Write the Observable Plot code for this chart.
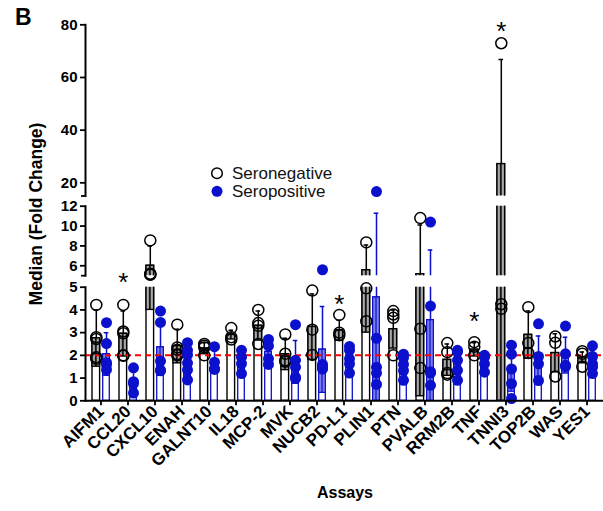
<!DOCTYPE html>
<html><head><meta charset="utf-8">
<script src="https://cdn.jsdelivr.net/npm/d3@7"></script>
<script src="https://cdn.jsdelivr.net/npm/@observablehq/plot@0.6"></script>
<style>
html,body{margin:0;padding:0;background:#fff;}
#chart{position:relative;width:603px;height:511px;overflow:hidden;font-family:Arial,"Liberation Sans",sans-serif;}
#chart svg.panel{position:absolute;left:0;overflow:visible;}
#overlay{position:absolute;left:0;top:0;pointer-events:none;}
</style>
</head><body>
<svg width="0" height="0" style="position:absolute">
<defs>
<pattern id="stripeK" patternUnits="objectBoundingBox" patternContentUnits="objectBoundingBox" width="1" height="1">
<rect x="0" y="0" width="1" height="1" fill="#a8a8a8"/>
<rect x="0.38" y="0" width="0.24" height="1" fill="#111"/>
</pattern>
<pattern id="stripeB" patternUnits="objectBoundingBox" patternContentUnits="objectBoundingBox" width="1" height="1">
<rect x="0" y="0" width="1" height="1" fill="#8f8ff0"/>
<rect x="0.38" y="0" width="0.24" height="1" fill="#0a10cc"/>
</pattern>
</defs>
</svg>
<div id="chart"></div>
<script>
const assays = ["AIFM1","CCL20","CXCL10","ENAH","GALNT10","IL18","MCP-2","MVK","NUCB2","PD-L1","PLIN1","PTN","PVALB","RRM2B","TNF","TNNI3","TOP2B","WAS","YES1"];
const negMean   = [2.75,2.95,6.0,2.4,2.3,2.9,3.3,2.05,3.25,3.1,5.55,3.15,5.15,1.8,2.25,27.1,2.9,2.1,1.9];
const negErrTop = [4.0,3.95,8.0,3.15,2.55,3.1,3.95,2.75,4.7,3.55,8.1,4.0,10.1,2.5,2.55,66.8,3.95,2.95,2.15];
const posMean   = [2.05,0.85,2.35,1.75,1.75,1.7,2.15,1.7,2.25,1.9,4.55,1.6,3.55,1.7,1.7,1.35,1.95,2.0,1.75];
const posErrTop = [3.0,1.3,3.6,2.4,2.2,2.15,2.65,2.65,4.15,2.3,11.3,2.0,7.6,2.2,2.0,2.3,2.85,2.8,2.2];
const negPoints = [
  [4.22,2.8,2.72,1.92,1.85],[4.22,3.05,2.97,2.0,1.98],[8.55,5.2,5.15,5.1],[3.35,2.35,2.25,2.05,2.0],
  [2.5,2.42,2.35,2.0],[3.2,2.8,2.7],[4.0,3.42,3.3,2.5],[2.92,2.07,1.78,1.72],[4.85,3.13,2.02],
  [3.78,3.0,2.88],[8.35,4.95,3.5],[3.95,3.8,3.65,2.0],[10.8,3.17,1.44],[2.54,2.14,1.22,1.15],
  [2.58,2.38,2.0],[73,4.25,4.05],[4.12,2.54,2.1],[2.83,2.55,1.07],[2.18,2.07,1.5]
];
const posPoints = [
  [3.44,2.52,1.68,1.6,1.37],[1.45,0.84,0.76,0.34],[3.95,3.45,1.75,1.35,1.32],[2.56,2.22,2.02,1.66,1.36,0.92],
  [2.38,1.7,1.42,1.38],[2.22,1.92,1.64,1.2],[2.7,2.42,1.85,1.6],[3.35,1.78,1.48,1.04,0.98],[5.6,1.6,1.5,1.45,1.4],
  [2.39,2.22,1.85,1.63,1.22],[16.7,2.75,1.48,1.22,0.72],[2.05,1.9,1.6,1.33,0.9],[10.4,4.17,1.28,1.22,0.68],
  [2.22,2.15,1.78,1.34,0.9],[2.0,1.92,1.63,1.26],[2.45,2.05,1.4,0.75,0.1],[3.39,1.95,1.63,0.89],
  [3.29,2.07,1.56,1.51],[2.42,1.95,1.62,1.48,1.2]
];
const starAssays = ["CCL20","PD-L1","TNF","TNNI3"];
const starValues = [5.45,4.5,3.75,79.7];
const starPanel  = ["bottom","bottom","bottom","top"];
const refLine = 2;
const topTicks = [20,40,60,80], midTicks = [6,8,10,12], botTicks = [0,1,2,3,4,5];

const BLUE = "#0a10cc";
const negRows = assays.map((a,i)=>({assay:a, mean:negMean[i], err:negErrTop[i], low:Math.max(0, 2*negMean[i]-negErrTop[i])}));
const posRows = assays.map((a,i)=>({assay:a, mean:posMean[i], err:posErrTop[i], low:Math.max(0, 2*posMean[i]-posErrTop[i])}));
const negPts = assays.flatMap((a,i)=>negPoints[i].map(v=>({assay:a, v})));
const posPts = assays.flatMap((a,i)=>posPoints[i].map(v=>({assay:a, v})));
const stars = starAssays.map((a,i)=>({assay:a, v:starValues[i], panel:starPanel[i]}));

const NDX = -4.7, PDX = 5.5;
const chart = document.getElementById("chart");

function panel({name, domain, ticks, ends, top, height, mt, mb, inPanel, bottom}) {
  const marks = [
    Plot.barY(negRows, {x:"assay", y1:0, y2:"mean", fill:"white", stroke:"black", strokeWidth:1.4, insetLeft:5, insetRight:14.4, clip:true}),
    Plot.barY(negRows, {x:"assay", y1:"low", y2:"mean", fill:"url(#stripeK)", stroke:"black", strokeWidth:1.4, insetLeft:5, insetRight:14.4, clip:true}),
    Plot.barY(posRows, {x:"assay", y1:0, y2:"mean", fill:"white", stroke:BLUE, strokeWidth:1.3, insetLeft:15.7, insetRight:4.7, clip:true}),
    Plot.barY(posRows, {x:"assay", y1:"low", y2:"mean", fill:"url(#stripeB)", stroke:BLUE, strokeWidth:1.3, insetLeft:15.7, insetRight:4.7, clip:true}),
    Plot.ruleX(negRows, {x:"assay", y1:"mean", y2:"err", stroke:"black", strokeWidth:1.5, dx:NDX, clip:true}),
    Plot.tickY(negRows, {x:"assay", y:"err", stroke:"black", strokeWidth:1.5, insetLeft:6.5, insetRight:15.9, clip:true}),
    Plot.ruleX(posRows, {x:"assay", y1:"mean", y2:"err", stroke:BLUE, strokeWidth:1.5, dx:PDX, clip:true}),
    Plot.tickY(posRows, {x:"assay", y:"err", stroke:BLUE, strokeWidth:1.5, insetLeft:16.7, insetRight:5.7, clip:true}),
  ];
  if (bottom) marks.push(Plot.ruleY([refLine], {stroke:"#ff0000", strokeWidth:2, strokeDasharray:"6,4"}));
  marks.push(
    Plot.dot(negPts.filter(d=>inPanel(d.v)), {x:"assay", y:"v", r:5.5, fill:"none", stroke:"black", strokeWidth:1.5, dx:NDX}),
    Plot.dot(posPts.filter(d=>inPanel(d.v)), {x:"assay", y:"v", r:5.5, fill:BLUE, stroke:"none", dx:PDX}),
    Plot.text(stars.filter(d=>d.panel===name), {x:"assay", y:"v", text:()=>"*", fontSize:26, fontWeight:"normal", dx:NDX, dy:6}),
    Plot.frame({anchor:"left", strokeWidth:2}),
    Plot.axisY(ticks, {tickSize:5, tickPadding:3, strokeWidth:1.8, fontSize:15, fontWeight:"bold", label:null}),
  );
  if (ends.length) marks.push(Plot.axisY(ends, {tickSize:4, strokeWidth:1.8, tickFormat:()=>"", label:null}));
  if (bottom) {
    marks.push(
      Plot.frame({anchor:"bottom", strokeWidth:2}),
      Plot.axisX({tickSize:5, tickPadding:3, strokeWidth:1.8, tickRotate:-45, fontSize:17, fontWeight:"bold", label:null})
    );
  }
  const p = Plot.plot({
    width:603, height, marginTop:mt, marginBottom:mb, marginLeft:85, marginRight:0,
    x:{type:"band", domain:assays, range:[83,603], padding:0, ...(bottom ? {} : {axis:null})},
    y:{domain, axis:null},
    style:{background:"transparent", overflow:"visible", fontFamily:'Arial,"Liberation Sans",sans-serif', color:"#000"},
    marks
  });
  p.classList.add("panel");
  p.style.top = top + "px";
  p.style.position = "absolute";
  p.style.left = "0px";
  p.style.overflow = "visible";
  chart.appendChild(p);
}

panel({name:"top", domain:[15,80], ticks:topTicks, ends:[15], top:0, height:200, mt:24.3, mb:4.5, inPanel:v=>v>12});
panel({name:"mid", domain:[5,12], ticks:midTicks, ends:[5], top:200, height:81, mt:5.7, mb:5.8, inPanel:v=>v>5 && v<=12});
panel({name:"bottom", domain:[0,5], ticks:botTicks, ends:[], top:281, height:230, mt:5.7, mb:110.7, inPanel:v=>v<=5, bottom:true});

// titles and legend
const ov = d3.select(chart).append("svg").attr("id","overlay").attr("width",603).attr("height",511)
  .style("font-family",'Arial,"Liberation Sans",sans-serif');
ov.append("text").attr("x",15).attr("y",25).attr("font-size",23).attr("font-weight","bold").text("B");
ov.append("text").attr("transform","translate(41.5,214) rotate(-90)").attr("text-anchor","middle")
  .attr("font-size",17.5).attr("font-weight","bold").text("Median (Fold Change)");
ov.append("text").attr("x",345).attr("y",498).attr("text-anchor","middle")
  .attr("font-size",16).attr("font-weight","bold").text("Assays");
const lg = ov.append("g");
lg.append("circle").attr("cx",217).attr("cy",173.3).attr("r",5.3).attr("fill","none").attr("stroke","#000").attr("stroke-width",1.5);
lg.append("text").attr("x",232).attr("y",179.3).attr("font-size",17).attr("fill","#111").text("Seronegative");
lg.append("circle").attr("cx",217).attr("cy",191.3).attr("r",5.5).attr("fill",BLUE);
lg.append("text").attr("x",232).attr("y",197.3).attr("font-size",17).attr("fill","#111").text("Seropositive");
</script>
</body></html>
